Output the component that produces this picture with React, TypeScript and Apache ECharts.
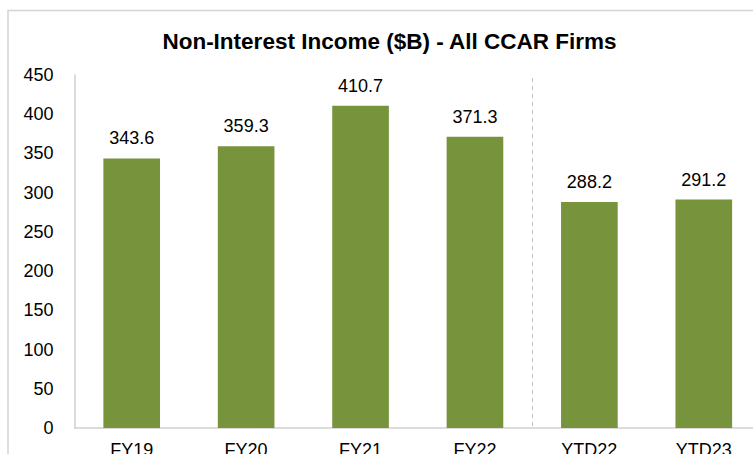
import React, { useEffect, useRef } from "react";
import * as echarts from "echarts";

const categories = ["FY19", "FY20", "FY21", "FY22", "YTD22", "YTD23"];
const values = [343.6, 359.3, 410.7, 371.3, 288.2, 291.2];
const yTicks = { min: 0, max: 450, interval: 50 };
const titleText = "Non-Interest Income ($B) - All CCAR Firms";
const dividerPosition = 4;

export default function App() {
  const ref = useRef<HTMLDivElement>(null);
  useEffect(() => {
    if (!ref.current) return;
    const chart = echarts.init(ref.current, null, { renderer: "svg" });
    const font = "'Liberation Sans', Arial, sans-serif";
    chart.setOption({
      animation: false,
      backgroundColor: "#ffffff",
      title: {
        text: titleText,
        left: 384.5,
        top: 25,
        textAlign: "center",
        textStyle: { fontFamily: font, fontSize: 22.5, fontWeight: "bold", color: "#000" },
      },
      graphic: [
        {
          type: "rect",
          shape: { x: 8, y: 10.5, width: 800, height: 500 },
          style: { fill: "none", stroke: "#d4d4d4", lineWidth: 1.5 },
          silent: true,
        },
      ],
      grid: {
        left: 74.5,
        right: 0,
        top: 75,
        bottom: 26,
        containLabel: false,
        outerBoundsMode: "none",
      },
      xAxis: [
        {
          type: "category",
          data: categories,
          boundaryGap: true,
          axisLine: { show: true, lineStyle: { color: "#d0d0d0", width: 1.5 } },
          axisTick: { show: false },
          axisLabel: { fontFamily: font, fontSize: 18, color: "#000", margin: 13, interval: 0 },
          splitLine: { show: false },
        },
        {
          type: "value",
          min: 0,
          max: categories.length,
          show: false,
        },
      ],
      yAxis: {
        type: "value",
        min: yTicks.min,
        max: yTicks.max,
        interval: yTicks.interval,
        axisLine: { show: true, lineStyle: { color: "#d0d0d0", width: 1.5 } },
        axisTick: { show: false },
        splitLine: { show: false },
        axisLabel: { fontFamily: font, fontSize: 18, color: "#000", margin: 21 },
      },
      series: [
        {
          type: "bar",
          data: values,
          xAxisIndex: 0,
          barWidth: "49.5%",
          itemStyle: { color: "#77933C" },
          label: {
            show: true,
            position: "top",
            distance: 11,
            fontFamily: font,
            fontSize: 18,
            color: "#000",
            formatter: (p: any) => Number(p.value).toFixed(1),
          },
        },
        {
          type: "line",
          xAxisIndex: 1,
          data: [],
          silent: true,
          markLine: {
            silent: true,
            symbol: "none",
            label: { show: false },
            lineStyle: { color: "#c0c0c0", type: [4, 4], width: 1 },
            data: [[{ coord: [dividerPosition, yTicks.max - 4] }, { coord: [dividerPosition, yTicks.min] }]],
          },
        },
      ],
    });
    return () => chart.dispose();
  }, []);
  return (
    <div style={{ position: "absolute", left: 0, top: 0, width: 753, height: 454, overflow: "hidden" }}>
      <div ref={ref} style={{ position: "absolute", left: 0, top: 0, width: 761, height: 454 }} />
    </div>
  );
}
